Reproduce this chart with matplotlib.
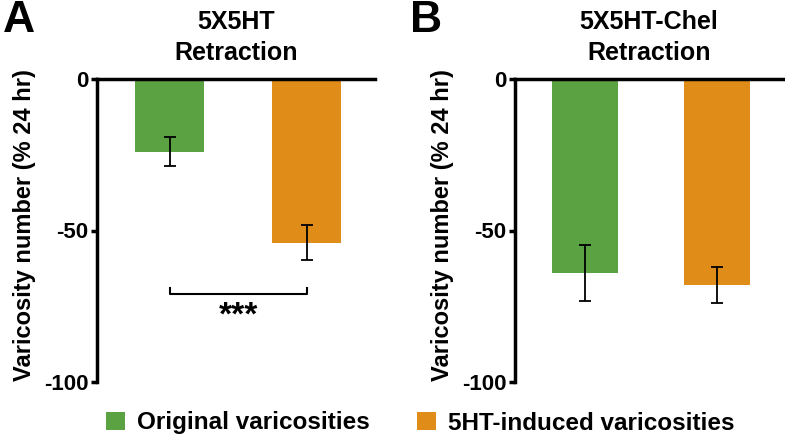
import numpy as np
import matplotlib.pyplot as plt
from matplotlib.patches import Patch

plt.rcParams['font.family'] = ['Liberation Sans Narrow', 'Liberation Sans', 'DejaVu Sans']
plt.rcParams['font.weight'] = 'bold'
plt.rcParams['axes.titleweight'] = 'bold'
plt.rcParams['axes.labelweight'] = 'bold'

groups = ['Original varicosities', '5HT-induced varicosities']
colors = ['#5ba243', '#e08c18']

titles = ['5X5HT\nRetraction', '5X5HT-Chel\nRetraction']
panel_letters = ['A', 'B']
means = [[-24, -54], [-64, -68]]
errs = [[4.8, 5.8], [9.2, 5.8]]
yticks = [0, -50, -100]

fig = plt.figure(figsize=(7.85, 4.41), dpi=100)
axes_pos = [[97 / 785, 1 - 382 / 441, 278 / 785, 303 / 441],
            [515 / 785, 1 - 382 / 441, 268 / 785, 303 / 441]]
letter_x = [3 / 785, 410 / 785]
ylabel_x = [25 / 785, 443 / 785]

for i, pos in enumerate(axes_pos):
    ax = fig.add_axes(pos)
    x = np.arange(len(groups))
    ax.bar(x, means[i], width=0.5, color=colors, zorder=1)
    ax.errorbar(x, means[i], yerr=errs[i], fmt='none', ecolor='black',
                elinewidth=1.3, capsize=4, capthick=1.3, zorder=2)
    ax.set_xlim(-0.53, 1.5)
    ax.set_ylim(-100, 0)
    ax.set_yticks(yticks)
    ax.set_yticklabels([str(t) for t in yticks], fontsize=16, fontweight='bold')
    ax.set_xticks([])
    for s in ['right', 'bottom']:
        ax.spines[s].set_visible(False)
    ax.spines['left'].set_linewidth(2.5)
    ax.spines['top'].set_linewidth(2.5)
    ax.tick_params(axis='y', width=2.5, length=4, pad=2)
    ax.set_ylabel('Varicosity number (% 24 hr)', fontsize=17, fontweight='bold')
    ax.yaxis.label.set_verticalalignment('center')
    ax.yaxis.set_label_coords(ylabel_x[i], 1 - 225 / 441, transform=fig.transFigure)
    ax.set_title(titles[i], fontsize=18, fontweight='bold', pad=14, linespacing=1.35)
    fig.text(letter_x[i], 1 - 20 / 441, panel_letters[i],
             fontsize=32, fontweight='bold', ha='left', va='center')

    if i == 0:
        # significance bracket
        yb = -71
        ax.plot([0, 0, 1, 1], [yb + 2, yb, yb, yb + 2], color='black', lw=1.5)
        ax.text(0.5, yb - 2, '***', ha='center', va='top', fontsize=24, fontweight='bold')

handles = [Patch(facecolor=c, edgecolor='none') for c in colors]
fig.legend(handles[:1], groups[:1], loc='center left', bbox_to_anchor=(84 / 785, 1 - 423 / 441),
           frameon=False, prop={'size': 17.5, 'weight': 'bold'},
           handlelength=0.8, handleheight=0.8, handletextpad=0.5)
fig.legend(handles[1:], groups[1:], loc='center left', bbox_to_anchor=(395 / 785, 1 - 423 / 441),
           frameon=False, prop={'size': 17.5, 'weight': 'bold'},
           handlelength=0.8, handleheight=0.8, handletextpad=0.5)

fig.savefig('out.png', dpi=100)
